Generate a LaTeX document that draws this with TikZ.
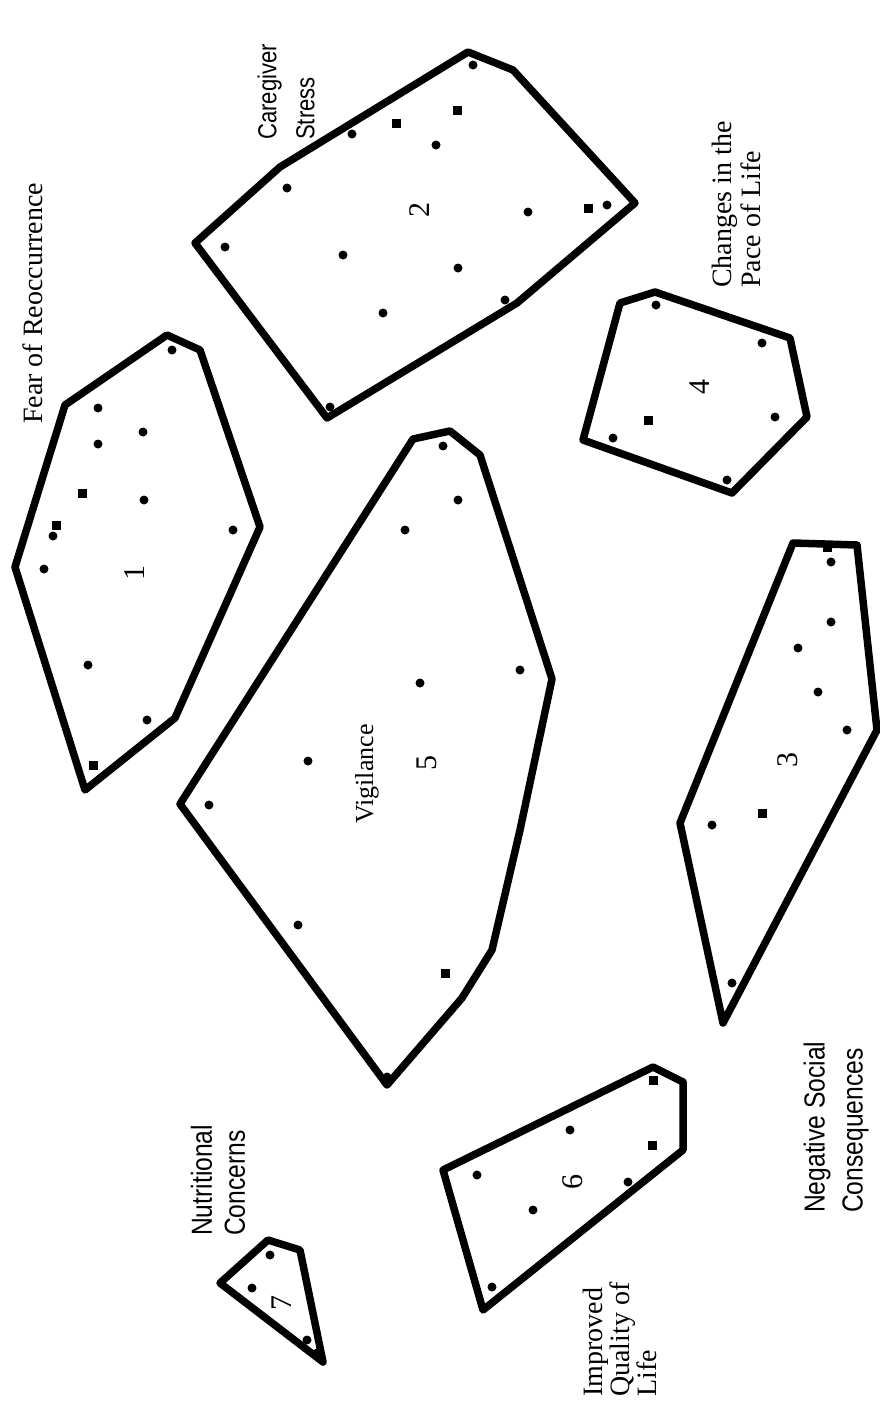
\documentclass[tikz,border=0pt]{standalone}
\usepackage{fontspec}
\setmainfont{Liberation Serif}
\newfontfamily\narrowsans[FakeStretch=0.85]{Liberation Sans}
\usepackage{tikz}
\usetikzlibrary{calc}

\begin{document}
\begin{tikzpicture}[x=1pt, y=-1pt, line join=round,
    hull/.style={line width=7.5pt},
    lab/.style={rotate=90, anchor=west, align=left, inner sep=0pt, font=\fontsize{28}{29}\selectfont},
    num/.style={rotate=90, inner sep=0pt, font=\fontsize{30}{32}\selectfont}]
    \useasboundingbox (0,0) rectangle (880,1403);
    % cluster 1
    \draw[hull] (167,335) -- (200,350) -- (260,527) -- (175,718) -- (85,790) -- (15,567) -- (65,405) -- cycle;
    \foreach \p in {(172,350),(98,408),(143,432),(98,444),(144,500),(53,536),(233,530),(44,569),(88,665),(147,720)}
        \fill \p circle (4.5pt);
    \foreach \p in {(82,493),(56,525),(93,765)}
        \fill \p ++(-4.5pt,-4.5pt) rectangle ++(9pt,9pt);
    \node[num] (n1) at (135,573) {1};
    % cluster 2
    \draw[hull] (468,52) -- (513,70) -- (635,203) -- (517,303) -- (327,418) -- (195,243) -- (280,167) -- cycle;
    \foreach \p in {(473,65),(352,134),(436,145),(287,188),(528,212),(607,205),(225,247),(343,255),(458,268),(505,300),(383,313),(330,407)}
        \fill \p circle (4.5pt);
    \foreach \p in {(457,110),(396,123),(588,208)}
        \fill \p ++(-4.5pt,-4.5pt) rectangle ++(9pt,9pt);
    \node[num] (n2) at (420,210) {2};
    % cluster 3
    \draw[hull] (793,543) -- (857,545) -- (877,730) -- (723,1023) -- (680,823) -- cycle;
    \foreach \p in {(831,562),(831,622),(798,648),(818,692),(847,730),(712,825),(732,983)}
        \fill \p circle (4.5pt);
    \foreach \p in {(827,547),(762,813)}
        \fill \p ++(-4.5pt,-4.5pt) rectangle ++(9pt,9pt);
    \node[num] (n3) at (788,760) {3};
    % cluster 4
    \draw[hull] (655,292) -- (790,338) -- (807,417) -- (732,493) -- (583,440) -- (620,303) -- cycle;
    \foreach \p in {(656,305),(762,343),(775,417),(613,438),(727,480)}
        \fill \p circle (4.5pt);
    \fill (648,420) ++(-4.5pt,-4.5pt) rectangle ++(9pt,9pt);
    \node[num] (n4) at (700,387) {4};
    % cluster 5
    \draw[hull] (413,439) -- (450,431) -- (480,455) -- (552,679) -- (520,830) -- (492,950) -- (462,998) -- (387,1085) -- (180,804) -- cycle;
    \foreach \p in {(443,446),(458,500),(405,530),(520,670),(420,683),(308,761),(209,805),(298,925),(387,1077)}
        \fill \p circle (4.5pt);
    \fill (445,973) ++(-4.5pt,-4.5pt) rectangle ++(9pt,9pt);
    \node[num] (n5) at (427,763) {5};
    \node[num, font=\fontsize{26}{28}\selectfont] (vig) at (367,774) {Vigilance};
    % cluster 6
    \draw[hull] (653,1067) -- (683,1082) -- (683,1150) -- (483,1310) -- (443,1170) -- cycle;
    \foreach \p in {(570,1130),(477,1175),(628,1182),(533,1210),(492,1287)}
        \fill \p circle (4.5pt);
    \foreach \p in {(653,1080),(652,1145)}
        \fill \p ++(-4.5pt,-4.5pt) rectangle ++(9pt,9pt);
    \node[num] (n6) at (573,1182) {6};
    % cluster 7
    \draw[hull] (268,1240) -- (300,1250) -- (323,1362) -- (220,1283) -- cycle;
    \foreach \p in {(270,1255),(252,1288),(307,1340),(317,1353)}
        \fill \p circle (4.5pt);
    \node[num] (n7) at (282,1303) {7};
    % cluster names
    \node[lab] (fear) at (33,424) {Fear of Reoccurrence};
    \node[lab, font=\narrowsans\fontsize{26}{38}\selectfont] (care) at (286,140) {Caregiver\\Stress};
    \node[lab] (pace) at (736,288) {Changes in the\\Pace of Life};
    \node[lab, font=\narrowsans\fontsize{29}{38}\selectfont] (social) at (836,1213) {Negative Social\\Consequences};
    \node[lab, font=\fontsize{28}{27}\selectfont] (qol) at (620,1397) {Improved\\Quality of\\Life};
    \node[lab, font=\narrowsans\fontsize{29}{33}\selectfont] (nutri) at (218,1236) {Nutritional\\Concerns};
\end{tikzpicture}
\end{document}
